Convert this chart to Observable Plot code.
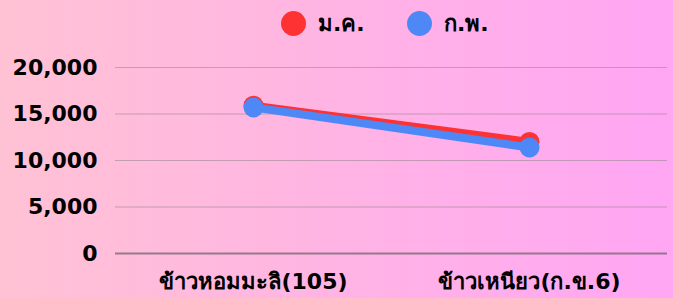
<!DOCTYPE html>
<html>
<head>
<meta charset="utf-8">
<script src="https://cdn.jsdelivr.net/npm/d3@7"></script>
<script src="https://cdn.jsdelivr.net/npm/@observablehq/plot@0.6"></script>
<style>
  html, body { margin: 0; padding: 0; }
  body {
    width: 673px; height: 298px; overflow: hidden;
    background: linear-gradient(to right, #ffc2d4, #ffa6f4);
    font-family: "DejaVu Sans", sans-serif;
    position: relative;
  }
  #legend { position: relative; height: 45px; }
  .item { position: absolute; top: 6px; display: flex; align-items: center; font-weight: bold; font-size: 22px; color: #000; }
  .sw { width: 25px; height: 25px; border-radius: 50%; margin-right: 12px; }
  #chart svg { display: block; background: transparent; }
</style>
</head>
<body>
<div id="legend"></div>
<div id="chart"></div>
<script>
const categories = ["ข้าวหอมมะลิ(105)", "ข้าวเหนียว(ก.ข.6)"];
const seriesNames = ["ม.ค.", "ก.พ."];
const seriesColors = ["#fe3232", "#4d88f6"];
const janValues = [15900, 12000];
const febValues = [15700, 11400];
const yTicks = [0, 5000, 10000, 15000, 20000];

const data = [];
[janValues, febValues].forEach((vals, si) => {
  vals.forEach((v, i) => data.push({ cat: categories[i], series: seriesNames[si], value: v }));
});

// legend
const legend = document.getElementById("legend");
const legendLeft = [281, 407];
seriesNames.forEach((s, i) => {
  const d = document.createElement("div");
  d.className = "item";
  d.style.left = legendLeft[i] + "px";
  d.innerHTML = `<span class="sw" style="background:${seriesColors[i]}"></span><span>${s}</span>`;
  legend.appendChild(d);
});

const fmt = d3.format(",");
const chart = Plot.plot({
  width: 673,
  height: 253,
  marginLeft: 115,
  marginRight: 6,
  marginTop: 22,
  marginBottom: 45,
  style: { background: "transparent", fontFamily: "'DejaVu Sans', sans-serif", fontSize: "22px", fontWeight: "bold", color: "#000" },
  x: { type: "point", domain: categories, padding: 0.5, label: null },
  y: { domain: [0, 20000], label: null },
  color: { domain: seriesNames, range: seriesColors },
  marks: [
    Plot.ruleY(yTicks.filter(t => t > 0), { stroke: "#9a8a95", strokeOpacity: 0.6, strokeWidth: 1.2 }),
    Plot.ruleY([0], { stroke: "#7a6a75", strokeOpacity: 0.8, strokeWidth: 2 }),
    Plot.axisY({ ticks: yTicks, tickFormat: fmt, tickSize: 0, tickPadding: 18, fontSize: 22, fontWeight: "bold", fill: "#000" }),
    Plot.axisX({ tickSize: 0, tickPadding: 20, fontSize: 22, fontWeight: "bold", fill: "#000" }),
    Plot.line(data.filter(d => d.series === seriesNames[0]), { x: "cat", y: "value", stroke: seriesColors[0], strokeWidth: 8 }),
    Plot.dot(data.filter(d => d.series === seriesNames[0]), { x: "cat", y: "value", r: 10, fill: seriesColors[0] }),
    Plot.line(data.filter(d => d.series === seriesNames[1]), { x: "cat", y: "value", stroke: seriesColors[1], strokeWidth: 8 }),
    Plot.dot(data.filter(d => d.series === seriesNames[1]), { x: "cat", y: "value", r: 10, fill: seriesColors[1] })
  ]
});
document.getElementById("chart").appendChild(chart);
</script>
</body>
</html>
